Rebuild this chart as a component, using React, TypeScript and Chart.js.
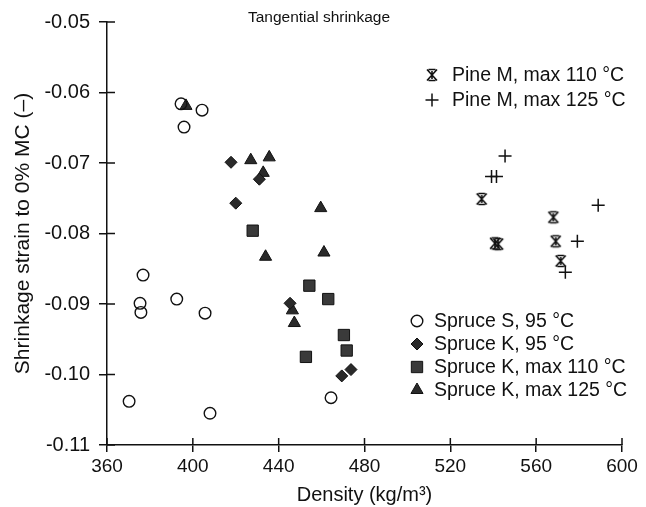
import React, { useEffect, useRef } from 'react';
import { Chart, registerables } from 'chart.js';
import { drawPoint } from 'chart.js/helpers';

Chart.register(...registerables);

const CHART_TITLE = 'Tangential shrinkage';
const X_TITLE = 'Density (kg/m³)';
const Y_TITLE = 'Shrinkage strain to 0% MC (–)';
const X_MIN = 360;
const X_MAX = 600;
const X_STEP = 40;
const Y_MIN = -0.11;
const Y_MAX = -0.05;
const Y_STEP = 0.01;

const SERIES_LABELS = [
  'Spruce S, 95 °C',
  'Spruce K, 95 °C',
  'Spruce K, max 110 °C',
  'Spruce K, max 125 °C',
  'Pine M, max 110 °C',
  'Pine M, max 125 °C',
];

const spruceS95Density = [394.5, 404.3, 395.9, 376.8, 375.4, 375.8, 392.5, 405.7, 370.3, 408.0, 464.4];
const spruceS95Strain = [-0.0616, -0.0625, -0.0649, -0.0859, -0.0899, -0.0912, -0.0893, -0.0913, -0.1038, -0.1055, -0.1033];

const spruceK95Density = [417.8, 420.0, 431.0, 445.3, 469.4, 473.7];
const spruceK95Strain = [-0.0699, -0.0757, -0.0723, -0.0899, -0.1002, -0.0993];

const spruceK110Density = [427.9, 454.3, 463.1, 470.4, 471.7, 452.7];
const spruceK110Strain = [-0.0796, -0.0874, -0.0893, -0.0944, -0.0966, -0.0975];

const spruceK125Density = [396.8, 427.0, 435.6, 432.8, 459.6, 433.9, 461.1, 446.4, 447.3];
const spruceK125Strain = [-0.0619, -0.0696, -0.0692, -0.0714, -0.0764, -0.0833, -0.0827, -0.0909, -0.0927];

const pineM110Density = [534.6, 540.8, 542.3, 568.0, 569.1, 571.4];
const pineM110Strain = [-0.0751, -0.0814, -0.0815, -0.0777, -0.0811, -0.0839];

const pineM125Density = [545.5, 539.2, 541.5, 588.9, 579.2, 573.6];
const pineM125Strain = [-0.0690, -0.0719, -0.0719, -0.0760, -0.0811, -0.0855];

const FONT = '"Liberation Sans", Arial, Helvetica, sans-serif';
const INK = '#111';

function toPoints(xs: number[], ys: number[]) {
  return xs.map((x, i) => ({ x, y: ys[i] }));
}

function makeAsterisk(): HTMLCanvasElement {
  const c = document.createElement('canvas');
  c.width = 16;
  c.height = 16;
  const g = c.getContext('2d')!;
  g.strokeStyle = INK;
  g.lineWidth = 1.6;
  g.beginPath();
  g.moveTo(3, 2.5);
  g.lineTo(13, 13.5);
  g.moveTo(13, 2.5);
  g.lineTo(3, 13.5);
  g.moveTo(4.5, 2.5);
  g.lineTo(11.5, 2.5);
  g.moveTo(4.5, 13.5);
  g.lineTo(11.5, 13.5);
  g.moveTo(8, 4);
  g.lineTo(8, 12);
  g.stroke();
  return c;
}

const innerTicksPlugin = {
  id: 'innerTicks',
  afterDraw(chart: any) {
    const { ctx } = chart;
    const xs = chart.scales.x;
    const ys = chart.scales.y;
    ctx.save();
    ctx.strokeStyle = INK;
    ctx.lineWidth = 1.5;
    ctx.beginPath();
    xs.ticks.forEach((t: any) => {
      const px = xs.getPixelForValue(t.value);
      ctx.moveTo(px, ys.bottom);
      ctx.lineTo(px, ys.bottom - 7);
    });
    ys.ticks.forEach((t: any) => {
      const py = ys.getPixelForValue(t.value);
      ctx.moveTo(xs.left, py);
      ctx.lineTo(xs.left + 8, py);
    });
    ctx.stroke();
    ctx.restore();
  },
};

const annotationPlugin = {
  id: 'titleAndLegends',
  afterDraw(chart: any) {
    const { ctx } = chart;
    ctx.save();
    ctx.fillStyle = INK;
    ctx.textBaseline = 'middle';
    ctx.font = `15.5px ${FONT}`;
    ctx.textAlign = 'center';
    ctx.fillText(CHART_TITLE, 319, 18);

    const groups = [
      { sx: 432, tx: 452, y0: 75, dy: 25, idx: [4, 5] },
      { sx: 417, tx: 434, y0: 321, dy: 23, idx: [0, 1, 2, 3] },
    ];
    ctx.textAlign = 'left';
    ctx.font = `19.5px ${FONT}`;
    groups.forEach((g) => {
      g.idx.forEach((di, k) => {
        const ds = chart.data.datasets[di];
        const y = g.y0 + k * g.dy;
        ctx.save();
        ctx.fillStyle = ds.backgroundColor;
        ctx.strokeStyle = ds.borderColor;
        ctx.lineWidth = ds.borderWidth;
        drawPoint(ctx, { pointStyle: ds.pointStyle, radius: ds.pointRadius, rotation: 0, borderWidth: ds.borderWidth }, g.sx, y);
        ctx.restore();
        ctx.fillStyle = INK;
        ctx.fillText(ds.label, g.tx, y + 1);
      });
    });
    ctx.restore();
  },
};

export default function App() {
  const ref = useRef<HTMLCanvasElement | null>(null);

  useEffect(() => {
    if (!ref.current) return;
    const asterisk = makeAsterisk();
    const chart = new Chart(ref.current, {
      type: 'scatter',
      data: {
        datasets: [
          {
            label: SERIES_LABELS[0],
            data: toPoints(spruceS95Density, spruceS95Strain),
            pointStyle: 'circle',
            pointRadius: 5.8,
            backgroundColor: 'rgba(255,255,255,0)',
            borderColor: INK,
            borderWidth: 1.4,
          },
          {
            label: SERIES_LABELS[1],
            data: toPoints(spruceK95Density, spruceK95Strain),
            pointStyle: 'rectRot',
            pointRadius: 6,
            backgroundColor: '#2a2a2a',
            borderColor: INK,
            borderWidth: 1,
          },
          {
            label: SERIES_LABELS[2],
            data: toPoints(spruceK110Density, spruceK110Strain),
            pointStyle: 'rect',
            pointRadius: 8,
            backgroundColor: '#3a3a3a',
            borderColor: INK,
            borderWidth: 1,
          },
          {
            label: SERIES_LABELS[3],
            data: toPoints(spruceK125Density, spruceK125Strain),
            pointStyle: 'triangle',
            pointRadius: 7,
            backgroundColor: '#2a2a2a',
            borderColor: INK,
            borderWidth: 1,
          },
          {
            label: SERIES_LABELS[4],
            data: toPoints(pineM110Density, pineM110Strain),
            pointStyle: asterisk as any,
            pointRadius: 6,
            backgroundColor: INK,
            borderColor: INK,
            borderWidth: 1.5,
          },
          {
            label: SERIES_LABELS[5],
            data: toPoints(pineM125Density, pineM125Strain),
            pointStyle: 'cross',
            pointRadius: 6.5,
            backgroundColor: INK,
            borderColor: INK,
            borderWidth: 1.5,
          },
        ],
      },
      options: {
        animation: false,
        responsive: false,
        maintainAspectRatio: false,
        layout: { padding: { left: 0, top: 22, right: 24, bottom: 0 } },
        plugins: {
          legend: { display: false },
          tooltip: { enabled: false },
          title: { display: false },
        },
        scales: {
          x: {
            type: 'linear',
            min: X_MIN,
            max: X_MAX,
            ticks: {
              stepSize: X_STEP,
              color: INK,
              font: { family: FONT, size: 19 },
              padding: 3,
              maxRotation: 0,
            },
            grid: {
              drawOnChartArea: false,
              drawTicks: true,
              tickLength: 7,
              color: INK,
              lineWidth: 1.5,
            },
            border: { display: true, color: INK, width: 1.5 },
            title: {
              display: true,
              text: X_TITLE,
              color: INK,
              font: { family: FONT, size: 20 },
              padding: { top: 3, bottom: 0 },
            },
            afterFit(scale: any) {
              scale.height = 62;
            },
          },
          y: {
            type: 'linear',
            min: Y_MIN,
            max: Y_MAX,
            ticks: {
              stepSize: Y_STEP,
              color: INK,
              font: { family: FONT, size: 20 },
              padding: 9,
              callback: (v: any) => Number(v).toFixed(2),
            },
            grid: {
              drawOnChartArea: false,
              drawTicks: true,
              tickLength: 8,
              color: INK,
              lineWidth: 1.5,
            },
            border: { display: true, color: INK, width: 1.5 },
            title: {
              display: true,
              text: Y_TITLE,
              color: INK,
              font: { family: FONT, size: 21 },
              padding: { top: 11, bottom: 0 },
            },
            afterFit(scale: any) {
              scale.width = 107;
            },
          },
        },
      },
      plugins: [innerTicksPlugin, annotationPlugin],
    });
    return () => chart.destroy();
  }, []);

  return (
    <div style={{ position: 'absolute', left: 0, top: 0, width: 646, height: 507, background: '#fff' }}>
      <canvas ref={ref} width={646} height={507} style={{ display: 'block' }} />
    </div>
  );
}
